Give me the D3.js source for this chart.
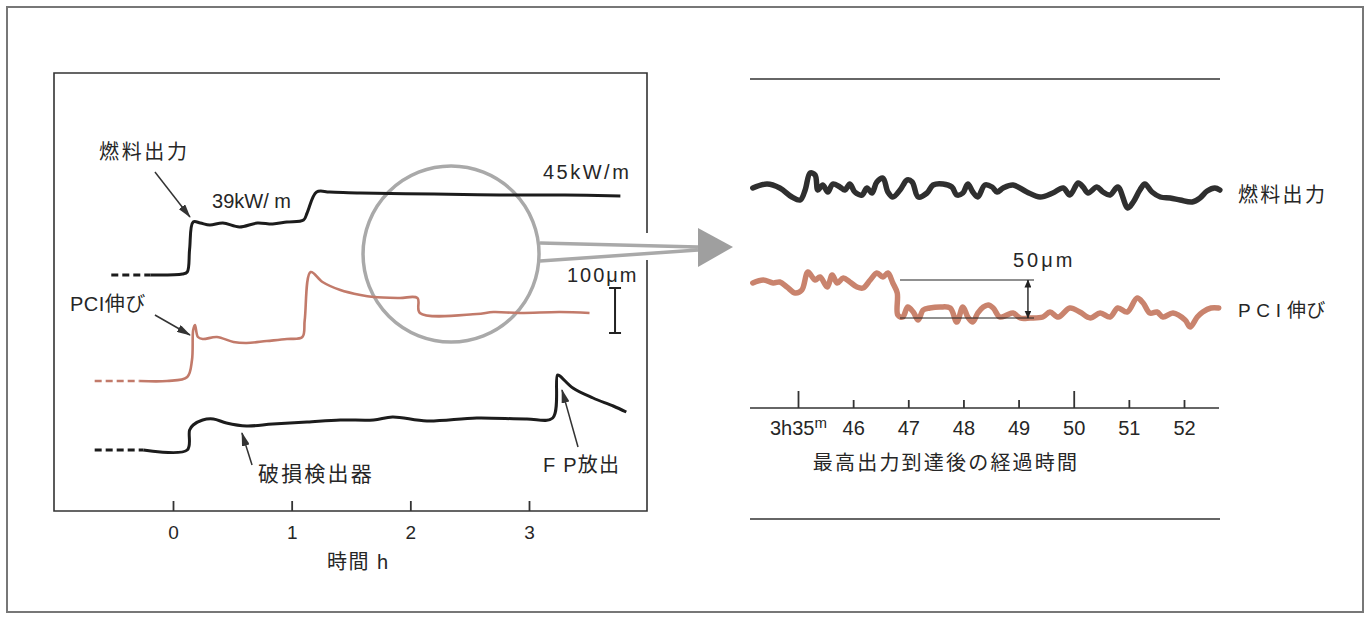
<!DOCTYPE html>
<html>
<head>
<meta charset="utf-8">
<script src="https://cdn.jsdelivr.net/npm/d3@7"></script>
<style>
body { margin: 0; background: #fff; }
text { font-family: "Liberation Sans", "Noto Sans CJK JP", sans-serif; fill: #262626; }
</style>
</head>
<body>
<script>
// ---- left panel: hours, arbitrary signal level ----
var leftTicks = [0, 1, 2, 3];
var leftTickLabels = ["0", "1", "2", "3"];

var fuelLead = [[-0.52, 236], [-0.19, 236]];
var fuelLeft = [[-0.19, 236], [0.08, 237], [0.12, 239], [0.14, 262], [0.17, 289], [0.23, 288], [0.31, 286],
    [0.42, 288], [0.56, 284], [0.71, 288], [0.84, 287], [0.96, 289], [1.10, 291], [1.13, 298], [1.21, 319],
    [1.32, 319], [1.58, 318], [2.2, 317], [2.75, 316], [3.3, 316], [3.77, 315]];

var pciLead = [[-0.66, 130], [-0.28, 130]];
var pciLeft = [[-0.28, 130], [-0.05, 130], [0.12, 134], [0.16, 151], [0.17, 181], [0.185, 186], [0.21, 174],
    [0.25, 172], [0.37, 174], [0.51, 169], [0.62, 168], [0.79, 170], [0.96, 172], [1.09, 174], [1.11, 191],
    [1.16, 239], [1.26, 229], [1.41, 221], [1.58, 216], [1.69, 214], [1.91, 213], [2.06, 213], [2.08, 198],
    [2.56, 197], [2.70, 199], [2.92, 198], [3.26, 199], [3.51, 198]];

var detLead = [[-0.66, 61], [-0.25, 61]];
var detLeft = [[-0.25, 61], [0.12, 61], [0.14, 81], [0.17, 86], [0.25, 91], [0.34, 92], [0.45, 88],
    [0.62, 85], [0.84, 87], [1.13, 89], [1.41, 91], [1.69, 91], [1.85, 94], [2.14, 90], [2.56, 93],
    [2.98, 92], [3.20, 93], [3.24, 136], [3.26, 135], [3.37, 123], [3.54, 113], [3.71, 105], [3.82, 99]];

// ---- right panel: minutes after 3h, arbitrary level ----
var rightTicks = [45, 46, 47, 48, 49, 50, 51, 52];
var rightLongTicks = [45, 50];

var fuelRight = [[44.18, 331], [44.44, 335], [44.67, 331], [44.89, 322], [45.04, 319], [45.13, 329], [45.22, 346],
    [45.31, 344], [45.36, 329], [45.45, 334], [45.54, 327], [45.63, 335], [45.76, 332], [45.85, 329], [45.94, 335],
    [46.03, 327], [46.16, 324], [46.25, 331], [46.34, 326], [46.43, 337], [46.54, 341], [46.63, 327], [46.72, 322],
    [46.85, 329], [46.98, 339], [47.07, 337], [47.18, 322], [47.34, 326], [47.45, 334], [47.63, 335], [47.79, 332],
    [47.88, 324], [47.99, 326], [48.08, 335], [48.17, 327], [48.26, 322], [48.39, 334], [48.52, 332], [48.61, 327],
    [48.72, 331], [48.90, 334], [49.15, 327], [49.39, 322], [49.62, 326], [49.81, 331], [49.93, 324], [50.08, 336],
    [50.17, 332], [50.26, 326], [50.42, 332], [50.53, 327], [50.66, 324], [50.80, 332], [50.98, 311], [51.08, 317],
    [51.20, 329], [51.29, 335], [51.42, 327], [51.57, 322], [51.75, 321], [51.93, 319], [52.15, 317], [52.29, 321],
    [52.42, 328], [52.56, 331], [52.65, 329]];

var pciRight = [[44.18, 236], [44.37, 239], [44.55, 236], [44.67, 237], [44.80, 232], [44.95, 226], [45.07, 229],
    [45.18, 247], [45.31, 239], [45.40, 242], [45.53, 232], [45.62, 244], [45.71, 236], [45.82, 241], [45.94, 237],
    [46.07, 232], [46.18, 231], [46.31, 239], [46.43, 246], [46.54, 242], [46.63, 246], [46.72, 236], [46.80, 226],
    [46.81, 204], [46.90, 202], [46.99, 212], [47.09, 207], [47.18, 199], [47.27, 209], [47.39, 211], [47.58, 212],
    [47.76, 211], [47.88, 197], [47.99, 212], [48.08, 202], [48.17, 197], [48.26, 206], [48.36, 212], [48.45, 214],
    [48.54, 211], [48.66, 202], [48.79, 204], [48.90, 206], [49.03, 201], [49.21, 201], [49.44, 202], [49.57, 207],
    [49.72, 202], [49.93, 211], [50.11, 207], [50.30, 201], [50.48, 206], [50.66, 202], [50.80, 211], [50.97, 207],
    [51.15, 221], [51.26, 216], [51.38, 206], [51.51, 207], [51.62, 202], [51.80, 206], [52.02, 199], [52.11, 192],
    [52.24, 202], [52.34, 207], [52.49, 211], [52.63, 211]];

// 50 um step marker: before / after level
var stepLevels = [239, 201];

var w = 1370;
var h = 618;

var svg = d3.select("body").append("svg")
    .attr("width", w)
    .attr("height", h);

var defs = svg.append("defs");
defs.append("marker")
    .attr("id", "head")
    .attr("markerUnits", "userSpaceOnUse")
    .attr("viewBox", "0 0 14 8")
    .attr("refX", 13).attr("refY", 4)
    .attr("markerWidth", 14).attr("markerHeight", 8)
    .attr("orient", "auto")
    .append("path").attr("d", "M0,0 L14,4 L0,8 Z").attr("fill", "#333");
defs.append("marker")
    .attr("id", "small")
    .attr("markerUnits", "userSpaceOnUse")
    .attr("viewBox", "0 0 8 7")
    .attr("refX", 7.5).attr("refY", 3.5)
    .attr("markerWidth", 8).attr("markerHeight", 7)
    .attr("orient", "auto-start-reverse")
    .append("path").attr("d", "M0,0 L8,3.5 L0,7 Z").attr("fill", "#222");

// outer frame
svg.append("rect")
    .attr("x", 7).attr("y", 7)
    .attr("width", 1356).attr("height", 605)
    .attr("fill", "none")
    .attr("stroke", "#777")
    .attr("stroke-width", 2);

// ---------------- left panel ----------------
var xL = d3.scaleLinear().domain([0, 3]).range([173, 529]);
var yL = d3.scaleLinear().domain([0, 438]).range([511, 73]);

var fL = { l: 54, r: 647, t: 73, b: 511 };
svg.append("path")
    .attr("d", "M" + fL.r + ",233 V" + fL.t + " H" + fL.l + " V" + fL.b + " H" + fL.r + " V260")
    .attr("fill", "none")
    .attr("stroke", "#333")
    .attr("stroke-width", 1.6);

// magnifier circle + funnel to the right panel
var cx = xL(2.343), cy = yL(257), cr = 88;
svg.append("circle")
    .attr("cx", cx).attr("cy", cy).attr("r", cr)
    .attr("fill", "none")
    .attr("stroke", "#a9a9a9")
    .attr("stroke-width", 3.5);
svg.append("path")
    .attr("d", "M" + (cx + 89) + ",243 L698,247 M" + (cx + 89) + ",261 L698,250")
    .attr("stroke", "#a9a9a9")
    .attr("stroke-width", 3.5)
    .attr("fill", "none");
svg.append("path")
    .attr("d", "M698,228 L733,247 L698,267 Z")
    .attr("fill", "#9f9f9f");

var lineL = d3.line()
    .x(function(d) { return xL(d[0]); })
    .y(function(d) { return yL(d[1]); })
    .curve(d3.curveCatmullRom.alpha(0.5));

var leftSeries = [
    { data: fuelLead, color: "#1c1c1c", width: 3, dash: "7,4" },
    { data: fuelLeft, color: "#1c1c1c", width: 3, dash: null },
    { data: pciLead, color: "#c27a6a", width: 2.6, dash: "7,4" },
    { data: pciLeft, color: "#c27a6a", width: 2.6, dash: null },
    { data: detLead, color: "#1c1c1c", width: 3, dash: "7,4" },
    { data: detLeft, color: "#1c1c1c", width: 3, dash: null }
];
svg.selectAll(".lseries")
    .data(leftSeries)
    .enter()
    .append("path")
    .attr("class", "lseries")
    .attr("d", function(d) { return lineL(d.data); })
    .attr("fill", "none")
    .attr("stroke", function(d) { return d.color; })
    .attr("stroke-width", function(d) { return d.width; })
    .attr("stroke-dasharray", function(d) { return d.dash; })
    .attr("stroke-linejoin", "round");

// bottom axis ticks
var axL = svg.append("g")
    .attr("transform", "translate(0," + fL.b + ")")
    .call(d3.axisBottom(xL).tickValues(leftTicks).tickSize(-10).tickPadding(15)
        .tickFormat(function(d, i) { return leftTickLabels[i]; }))
    .attr("font-size", 19)
    .style("color", "#333");
axL.select(".domain").remove();
axL.selectAll("line").attr("stroke-width", 1.8);

// pointer arrows
var arrowsL = [
    [-0.152, 339, 0.143, 294],
    [-0.152, 196, 0.143, 176],
    [0.666, 46, 0.581, 78],
    [3.413, 64, 3.278, 121]
];
svg.selectAll(".arrowL")
    .data(arrowsL)
    .enter()
    .append("line")
    .attr("x1", function(d) { return xL(d[0]); })
    .attr("y1", function(d) { return yL(d[1]); })
    .attr("x2", function(d) { return xL(d[2]); })
    .attr("y2", function(d) { return yL(d[3]); })
    .attr("stroke", "#333")
    .attr("stroke-width", 1.5)
    .attr("marker-end", "url(#head)");

// 100 um scale bar
var sbx = xL(3.725);
svg.append("path")
    .attr("d", "M" + (sbx - 6) + "," + yL(223) + " H" + (sbx + 6) + " M" + sbx + "," + yL(223) + " V" + yL(178) +
        " M" + (sbx - 6) + "," + yL(178) + " H" + (sbx + 6))
    .attr("stroke", "#222")
    .attr("stroke-width", 2)
    .attr("fill", "none");

var labelsL = [
    { t: -0.624, v: 359, s: "燃料出力", size: 20, ls: 2.7 },
    { t: 0.329, v: 310, s: "39kW/ m", size: 20, ls: 0 },
    { t: 3.118, v: 339, s: "45kW/m", size: 20, ls: 2.5 },
    { t: 3.32, v: 236, s: "100μm", size: 20, ls: 2 },
    { t: -0.868, v: 207, s: "PCI伸び", size: 20, ls: 0.5 },
    { t: 0.716, v: 38, s: "破損検出器", size: 21, ls: 2.2 },
    { t: 3.118, v: 46, s: "F P放出", size: 20, ls: 1.2 },
    { t: 1.298, v: -51, s: "時間 h", size: 20, ls: 1.5 }
];
svg.selectAll(".labL")
    .data(labelsL)
    .enter()
    .append("text")
    .attr("x", function(d) { return xL(d.t); })
    .attr("y", function(d) { return yL(d.v); })
    .attr("dy", "0.36em")
    .attr("font-size", function(d) { return d.size; })
    .attr("letter-spacing", function(d) { return d.ls; })
    .text(function(d) { return d.s; });

// ---------------- right panel ----------------
var xR = d3.scaleLinear().domain([45, 52]).range([798, 1184]);
var yR = d3.scaleLinear().domain([0, 440]).range([519, 79]);
var axisY = 408;

// top and bottom rules
svg.selectAll(".rule")
    .data([79, 519])
    .enter()
    .append("line")
    .attr("x1", 750).attr("x2", 1220)
    .attr("y1", function(d) { return d; })
    .attr("y2", function(d) { return d; })
    .attr("stroke", "#333")
    .attr("stroke-width", 1.5);

var lineR = d3.line()
    .x(function(d) { return xR(d[0]); })
    .y(function(d) { return yR(d[1]); })
    .curve(d3.curveCatmullRom.alpha(0.5));

svg.append("path")
    .attr("d", lineR(fuelRight))
    .attr("fill", "none")
    .attr("stroke", "#2f2f2f")
    .attr("stroke-width", 5.5)
    .attr("stroke-linejoin", "round")
    .attr("stroke-linecap", "round");
svg.append("path")
    .attr("d", lineR(pciRight))
    .attr("fill", "none")
    .attr("stroke", "#c9836d")
    .attr("stroke-width", 5.5)
    .attr("stroke-linejoin", "round")
    .attr("stroke-linecap", "round");

// 50 um step marker
svg.selectAll(".step")
    .data(stepLevels)
    .enter()
    .append("line")
    .attr("x1", xR(46.85)).attr("x2", xR(49.28))
    .attr("y1", function(d) { return yR(d); })
    .attr("y2", function(d) { return yR(d); })
    .attr("stroke", "#222")
    .attr("stroke-width", 1.2);
svg.append("line")
    .attr("x1", xR(49.17)).attr("x2", xR(49.17))
    .attr("y1", yR(stepLevels[0])).attr("y2", yR(stepLevels[1]))
    .attr("stroke", "#222")
    .attr("stroke-width", 1.4)
    .attr("marker-start", "url(#small)")
    .attr("marker-end", "url(#small)");

// time axis
svg.append("line")
    .attr("x1", 750).attr("x2", 1219)
    .attr("y1", axisY).attr("y2", axisY)
    .attr("stroke", "#333")
    .attr("stroke-width", 1.5);
var axR = svg.append("g")
    .attr("transform", "translate(0," + axisY + ")")
    .call(d3.axisBottom(xR).tickValues(rightTicks).tickSize(-8).tickPadding(13)
        .tickFormat(function(d) { return d === 45 ? "" : d; }))
    .attr("font-size", 20)
    .style("color", "#333");
axR.select(".domain").remove();
axR.selectAll("line")
    .attr("stroke-width", 1.8)
    .attr("y2", function(d) { return rightLongTicks.indexOf(d) >= 0 ? -17 : -8; });
var first = axR.selectAll(".tick").filter(function(d) { return d === 45; }).select("text");
first.append("tspan").text("3h35");
first.append("tspan").attr("dy", "-0.45em").attr("font-size", 15).text("m");

var labelsR = [
    { x: 1238, y: 195, s: "燃料出力", size: 20, ls: 2.3, anchor: "start" },
    { x: 1238, y: 310, s: "P C I 伸び", size: 19, ls: 0.3, anchor: "start" },
    { x: 1013, y: 260, s: "50μm", size: 20, ls: 3, anchor: "start" },
    { x: 946, y: 463, s: "最高出力到達後の経過時間", size: 20, ls: 2.2, anchor: "middle" }
];
svg.selectAll(".labR")
    .data(labelsR)
    .enter()
    .append("text")
    .attr("x", function(d) { return d.x; })
    .attr("y", function(d) { return d.y; })
    .attr("dy", "0.36em")
    .attr("text-anchor", function(d) { return d.anchor; })
    .attr("font-size", function(d) { return d.size; })
    .attr("letter-spacing", function(d) { return d.ls; })
    .text(function(d) { return d.s; });
</script>
</body>
</html>
